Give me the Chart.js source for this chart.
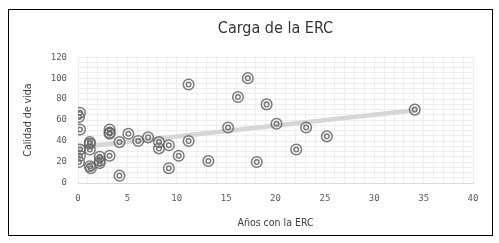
<!DOCTYPE html>
<html>
<head>
<meta charset="utf-8">
<script src="https://cdn.jsdelivr.net/npm/chart.js@4/dist/chart.umd.min.js"></script>
<style>
html,body{margin:0;padding:0;background:#fff;}
#wrap{width:499px;height:243px;}
</style>
</head>
<body>
<div id="wrap"><canvas id="c" width="499" height="243"></canvas></div>
<script>
const titleText = "Carga de la ERC";
const xTitle = "Años con la ERC";
const yTitle = "Calidad de vida";
const years = [0.1,0.2,0.2,0.2,0.2,0.1,1.2,1.2,1.2,1.2,1.3,2.2,2.2,2.2,3.2,3.2,3.2,3.2,4.2,4.2,5.1,6.1,7.1,8.2,8.2,9.2,9.2,10.2,11.2,11.2,13.2,15.2,16.2,17.2,18.1,19.1,20.1,22.1,23.1,25.2,34.1];
const quality = [63,67,51,32,26,20,39,37.5,32,16,14,25,21,19,51,48,47,26,39,7,47,40,43.5,39,33,36,14,26,94,40,21,53,82,100,20,75,56.5,32,53,44.5,70];
const trendX = [0.1, 34.1];
const trendY = [34, 69.5];
const xTicks = [0,5,10,15,20,25,30,35,40];
const yTicks = [0,20,40,60,80,100,120];

const pts = years.map((x,i)=>({x:x,y:quality[i]}));
const trend = trendX.map((x,i)=>({x:x,y:trendY[i]}));

const narrow = "'Liberation Sans Narrow','DejaVu Sans Condensed','Arial Narrow',sans-serif";
const mono = "'DejaVu Sans Mono','Liberation Mono',monospace";

const borderPlugin = {
  id:'frame',
  afterDraw(chart){
    const ctx = chart.ctx;
    ctx.save();
    ctx.strokeStyle = '#000';
    ctx.lineWidth = 1;
    ctx.strokeRect(8.5, 9.5, 484, 226);
    ctx.restore();
  }
};

new Chart(document.getElementById('c'), {
  type:'scatter',
  data:{
    datasets:[
      {type:'line', data:trend, borderColor:'#d6d6d6', borderWidth:4.5, pointRadius:0, fill:false, order:3, borderCapStyle:'round'},
      {data:pts, pointRadius:5.3, pointBorderWidth:1.5, pointBackgroundColor:'rgba(255,255,255,0)', pointBorderColor:'rgba(100,100,100,0.85)', order:2},
      {data:pts, pointRadius:2.3, pointBorderWidth:1.5, pointBackgroundColor:'rgba(255,255,255,0)', pointBorderColor:'rgba(100,100,100,0.85)', order:1}
    ]
  },
  options:{
    responsive:false,
    animation:false,
    events:[],
    layout:{padding:{left:10,right:26,top:10,bottom:10}},
    plugins:{
      legend:{display:false},
      tooltip:{enabled:false},
      title:{display:true, text:titleText, fullSize:false, color:'#333', font:{family:narrow, size:16, weight:'normal'}, padding:{top:9, bottom:19}}
    },
    scales:{
      x:{
        type:'linear', min:0, max:40,
        afterBuildTicks(s){ const t=[]; for(let v=0; v<=40; v+=1) t.push({value:v}); s.ticks=t; },
        afterFit(s){ s.height = 50; },
        ticks:{autoSkip:false, maxRotation:0, padding:10, color:'#595959', font:{family:mono, size:9},
          callback:(v)=> xTicks.includes(v) ? String(v) : ''},
        grid:{color:'#eeeeee', lineWidth:1, drawTicks:false},
        border:{display:true, color:'#d9d9d9'},
        title:{display:true, text:xTitle, color:'#404040', font:{family:narrow, size:10.5}, padding:{top:0,bottom:3}}
      },
      y:{
        type:'linear', min:0, max:120,
        afterBuildTicks(s){ const t=[]; for(let v=0; v<=120; v+=5) t.push({value:v}); s.ticks=t; },
        afterFit(s){ s.width = 68; },
        ticks:{autoSkip:false, padding:11, color:'#595959', font:{family:mono, size:9},
          callback:(v)=> yTicks.includes(v) ? String(v) : ''},
        grid:{color:(c)=> c.tick && c.tick.value===0 ? '#d9d9d9' : '#eeeeee', lineWidth:1, drawTicks:false},
        border:{display:false},
        title:{display:true, text:yTitle, color:'#404040', font:{family:narrow, size:10.5}, padding:{top:12,bottom:0}}
      }
    }
  },
  plugins:[borderPlugin]
});
</script>
</body>
</html>
